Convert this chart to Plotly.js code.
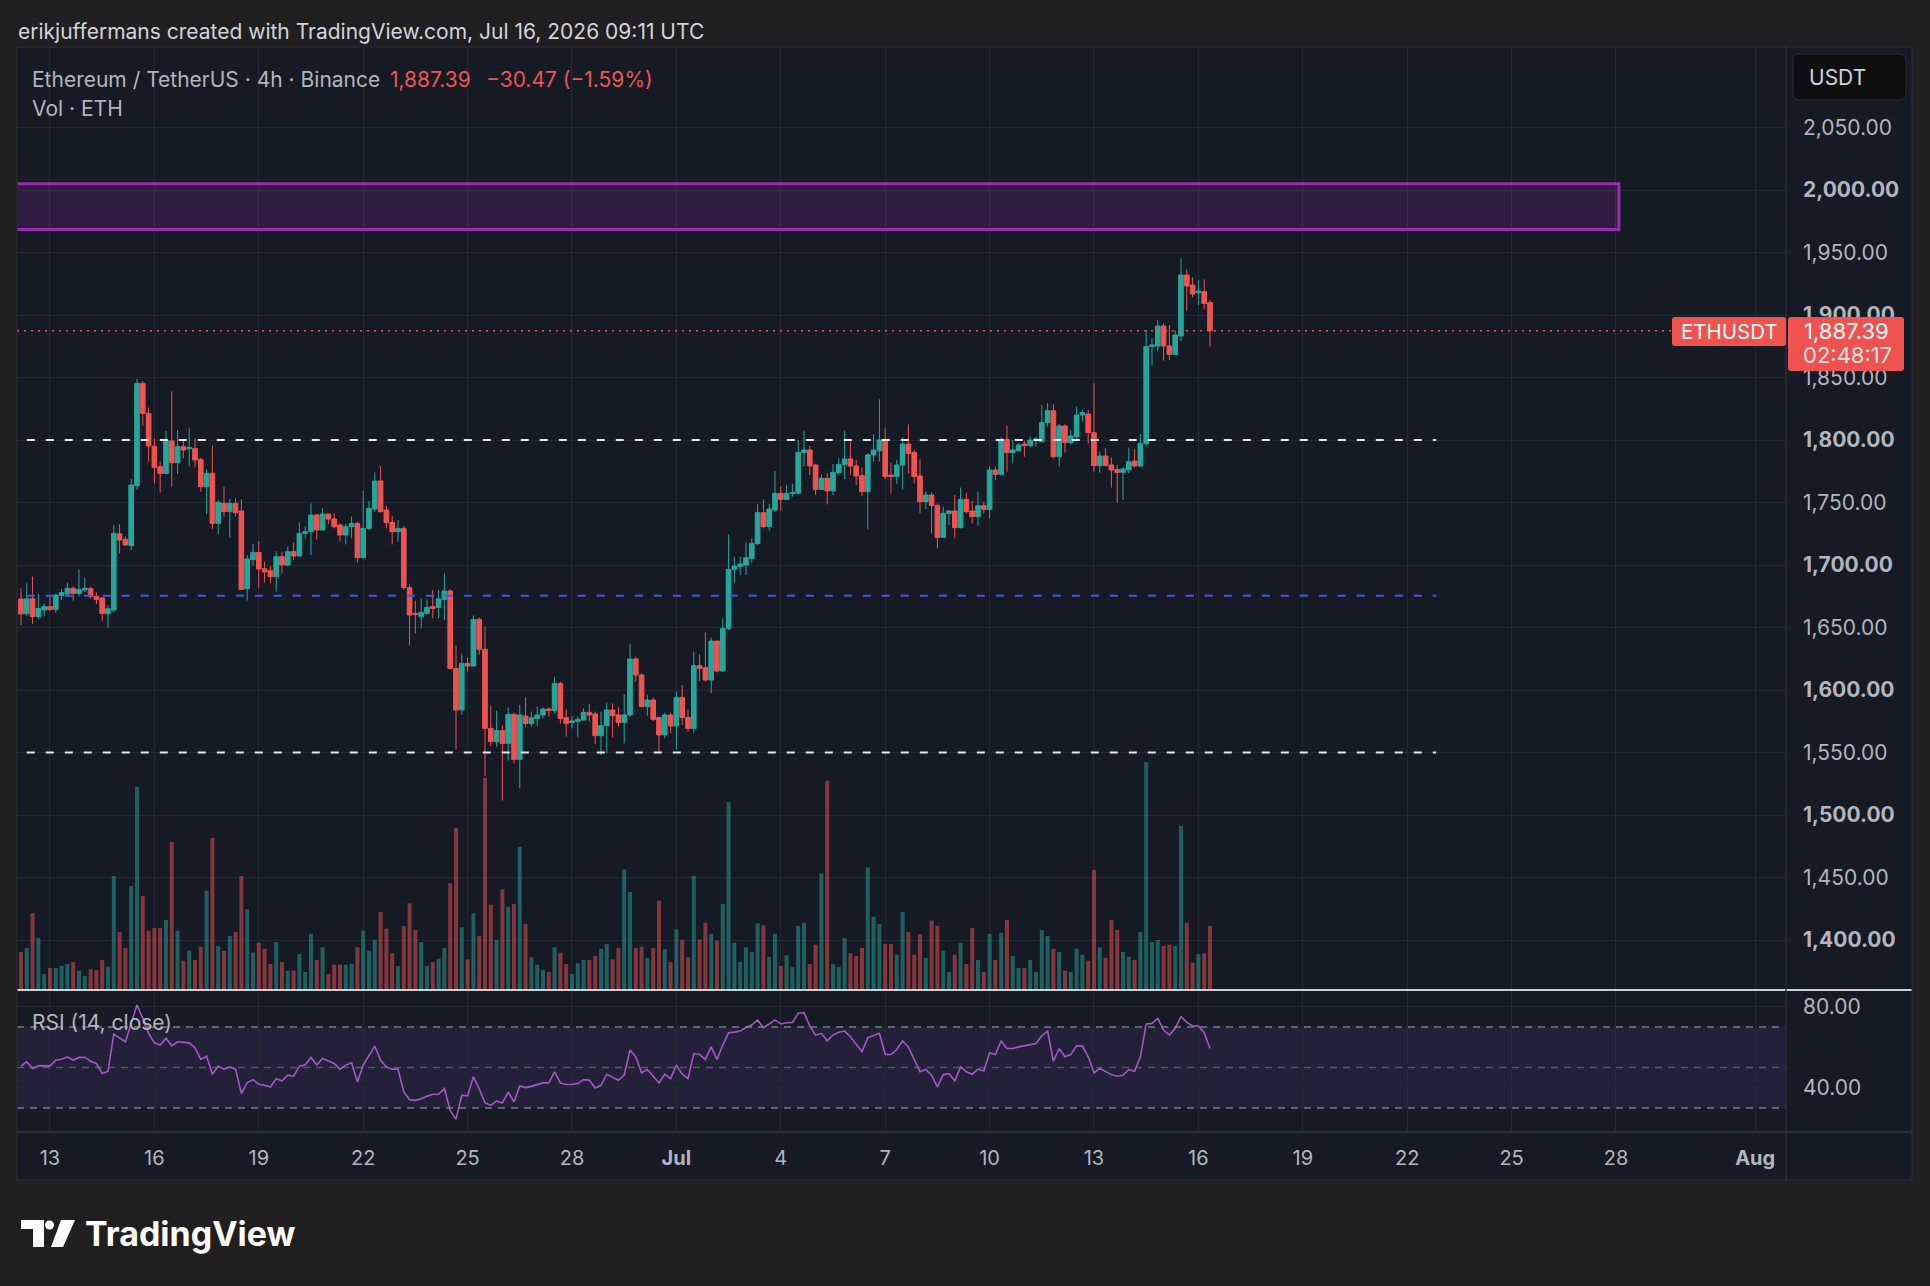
<!DOCTYPE html>
<html><head><meta charset="utf-8">
<script src="https://cdn.plot.ly/plotly-3.0.1.min.js"></script>
<style>html,body{margin:0;padding:0;background:#1f1f1f;}#chart{width:1930px;height:1286px;}</style>
</head><body><div id="chart"></div>
<script>
// ---------------- DATA (ETHUSDT 4h, Binance) ----------------
const OPEN = [1672.8,1661.0,1673.0,1658.7,1664.0,1666.7,1664.5,1675.7,1676.8,1681.3,
1677.3,1680.0,1681.0,1675.0,1673.6,1661.0,1664.0,1725.0,1720.5,1715.5,
1763.5,1845.3,1821.3,1795.0,1778.7,1773.3,1799.2,1781.9,1794.7,1793.0,
1793.3,1784.5,1762.7,1773.3,1733.3,1749.3,1742.7,1749.3,1743.2,1681.0,
1704.3,1710.0,1697.0,1695.5,1690.7,1706.7,1700.0,1710.7,1707.2,1725.3,
1726.7,1740.0,1728.0,1740.8,1736.8,1732.0,1724.0,1730.7,1733.3,1705.9,
1729.3,1744.8,1767.2,1744.0,1734.0,1726.7,1729.3,1681.9,1661.3,1658.7,
1661.3,1666.7,1666.1,1672.5,1679.2,1617.3,1584.0,1621.3,1619.2,1656.5,
1632.5,1569.3,1558.7,1567.5,1557.3,1580.5,1544.5,1579.2,1573.3,1577.3,
1580.0,1584.8,1583.5,1605.3,1577.9,1574.0,1575.0,1576.0,1582.1,1580.8,
1563.5,1571.5,1584.0,1580.0,1573.9,1580.0,1624.8,1612.0,1586.7,1592.0,
1577.9,1564.0,1580.0,1571.2,1594.1,1577.9,1569.3,1619.5,1617.9,1608.0,
1639.2,1615.2,1649.3,1696.5,1698.9,1700.0,1705.3,1717.3,1741.9,1730.7,
1744.0,1757.3,1752.5,1757.3,1757.3,1790.1,1792.0,1780.0,1760.5,1769.3,
1759.2,1774.1,1780.5,1784.8,1779.2,1771.5,1758.7,1788.0,1791.5,1800.0,
1772.0,1770.7,1780.0,1796.8,1789.9,1771.2,1750.7,1756.0,1747.5,1722.1,
1741.3,1743.2,1729.9,1752.5,1743.2,1738.7,1747.5,1744.5,1776.0,1772.5,
1800.5,1790.0,1791.5,1796.8,1795.5,1799.5,1798.7,1814.1,1823.5,1786.7,
1811.2,1797.9,1802.7,1820.0,1820.8,1805.9,1779.5,1787.2,1780.0,1776.5,
1774.1,1776.0,1783.2,1779.2,1797.3,1874.7,1875.2,1891.2,1875.2,1868.5,
1883.2,1932.0,1924.0,1918.0,1918.7,1909.9];
const HIGH = [1681.3,1685.3,1690.7,1677.0,1669.0,1675.7,1677.0,1681.0,1685.9,1683.0,
1696.5,1690.0,1682.7,1678.0,1674.0,1668.0,1732.0,1732.5,1723.0,1768.8,
1848.8,1847.0,1826.0,1801.3,1782.7,1807.2,1838.9,1808.0,1800.8,1809.3,
1801.3,1785.9,1776.8,1795.5,1752.0,1762.7,1752.8,1753.3,1752.5,1708.0,
1716.8,1719.2,1702.7,1699.2,1711.0,1710.7,1714.7,1718.0,1733.9,1731.0,
1749.3,1740.8,1745.3,1741.0,1741.3,1733.3,1732.8,1738.7,1734.7,1759.2,
1751.2,1774.1,1779.2,1747.2,1739.2,1736.0,1731.2,1684.5,1671.5,1673.3,
1672.5,1680.0,1680.0,1693.3,1680.5,1635.5,1629.3,1625.9,1659.7,1658.1,
1650.7,1587.2,1583.5,1571.5,1586.0,1582.0,1588.0,1594.1,1582.7,1586.7,
1585.9,1586.1,1610.7,1606.7,1584.5,1579.2,1578.7,1585.3,1588.8,1582.7,
1582.7,1589.9,1589.3,1586.1,1596.8,1636.8,1626.7,1613.3,1596.0,1594.1,
1578.7,1581.9,1581.9,1598.7,1604.0,1584.5,1630.7,1628.5,1646.1,1641.9,
1639.5,1657.3,1724.5,1706.7,1706.7,1718.1,1721.3,1748.5,1752.5,1748.8,
1775.2,1763.2,1764.0,1765.3,1800.0,1807.5,1795.2,1781.0,1772.5,1773.3,
1780.8,1785.3,1807.5,1798.7,1784.0,1778.1,1789.3,1804.8,1832.5,1809.3,
1781.9,1784.0,1802.1,1812.5,1792.0,1784.5,1758.7,1757.9,1749.3,1746.7,
1744.0,1756.0,1761.9,1757.9,1751.2,1758.7,1750.7,1778.7,1778.7,1802.1,
1811.5,1800.0,1797.3,1799.5,1802.7,1802.7,1828.0,1829.3,1828.5,1812.8,
1812.5,1808.0,1826.7,1824.0,1824.0,1845.3,1790.7,1793.3,1785.9,1780.0,
1778.1,1794.1,1792.8,1804.8,1888.0,1881.3,1896.0,1893.3,1892.0,1887.5,
1945.3,1936.5,1930.1,1928.0,1928.5,1912.0];
const LOW = [1652.0,1659.0,1653.0,1657.0,1659.0,1663.0,1662.0,1672.0,1674.7,1671.5,
1674.7,1678.7,1673.0,1668.8,1654.7,1650.0,1662.0,1709.3,1715.5,1712.0,
1760.0,1811.5,1782.7,1765.3,1758.0,1772.8,1762.7,1772.8,1785.3,1778.7,
1778.1,1758.7,1740.8,1728.8,1724.8,1738.7,1721.9,1738.7,1680.0,1671.5,
1700.0,1681.9,1685.9,1685.3,1678.7,1693.3,1698.7,1704.0,1706.7,1721.3,
1708.0,1720.5,1727.5,1732.8,1729.3,1718.7,1716.5,1721.3,1701.9,1705.3,
1728.0,1742.7,1741.9,1729.3,1716.5,1718.7,1680.0,1635.5,1645.3,1649.3,
1660.0,1657.3,1657.3,1656.0,1616.5,1552.5,1580.0,1614.7,1618.7,1628.0,
1531.0,1554.7,1554.7,1511.5,1543.5,1541.3,1521.3,1570.7,1570.7,1571.2,
1577.3,1578.7,1581.3,1573.3,1562.7,1569.3,1562.1,1575.5,1574.7,1556.8,
1548.0,1549.3,1562.1,1570.7,1557.3,1578.7,1606.7,1586.1,1579.5,1575.2,
1550.1,1561.3,1565.3,1552.5,1572.0,1566.7,1565.3,1607.2,1606.7,1597.3,
1614.1,1614.7,1648.0,1685.9,1692.0,1692.0,1701.9,1716.0,1729.3,1727.5,
1742.7,1743.5,1752.5,1754.7,1756.8,1778.7,1772.0,1756.0,1760.0,1748.5,
1756.0,1772.0,1768.8,1772.0,1764.0,1755.2,1728.5,1782.7,1782.7,1768.8,
1757.3,1764.8,1760.5,1773.3,1765.3,1741.3,1744.8,1725.3,1713.3,1722.0,
1732.0,1721.3,1729.3,1741.3,1733.3,1731.5,1741.3,1737.3,1768.0,1772.0,
1774.7,1781.3,1790.7,1786.7,1794.1,1794.7,1797.9,1810.7,1785.0,1778.7,
1789.9,1796.5,1798.7,1814.7,1797.3,1774.7,1773.9,1778.7,1761.9,1749.9,
1752.0,1773.3,1778.1,1778.7,1794.7,1860.0,1871.2,1863.5,1864.0,1868.0,
1879.2,1903.5,1914.1,1908.0,1904.5,1874.7];
const CLOSE = [1660.8,1673.0,1658.7,1665.3,1666.7,1664.5,1676.0,1677.9,1681.3,1677.3,
1680.5,1681.3,1674.7,1672.5,1661.3,1665.0,1725.3,1720.0,1716.0,1764.0,
1845.3,1821.3,1795.2,1778.0,1773.3,1800.0,1781.9,1794.7,1792.0,1794.0,
1784.0,1762.7,1773.3,1733.3,1750.1,1742.7,1749.3,1741.9,1680.5,1704.8,
1710.1,1696.8,1694.4,1690.7,1706.7,1700.0,1710.7,1707.2,1725.3,1726.7,
1740.0,1728.0,1740.8,1736.8,1730.7,1724.0,1730.7,1733.3,1705.9,1729.3,
1745.3,1767.2,1742.7,1733.9,1726.7,1729.3,1681.9,1660.0,1660.5,1662.1,
1666.1,1665.3,1672.8,1679.2,1617.3,1584.0,1621.3,1619.2,1656.5,1632.5,
1569.3,1558.7,1567.5,1557.3,1580.5,1544.5,1580.0,1573.3,1577.9,1580.0,
1584.8,1583.5,1605.3,1577.3,1573.3,1575.3,1576.5,1582.1,1580.0,1563.5,
1571.5,1584.0,1579.5,1573.9,1580.0,1624.8,1612.0,1586.7,1592.0,1576.5,
1564.0,1580.0,1571.2,1594.1,1577.9,1569.3,1619.5,1617.3,1608.0,1639.2,
1615.2,1649.3,1696.5,1699.2,1700.8,1705.9,1717.3,1741.9,1730.7,1744.8,
1757.3,1752.5,1757.3,1757.9,1790.1,1792.0,1779.2,1760.5,1769.3,1759.2,
1774.1,1780.5,1784.8,1779.2,1771.2,1758.7,1788.0,1792.0,1800.0,1770.7,
1770.7,1780.0,1796.8,1789.3,1770.7,1750.7,1756.0,1747.5,1722.1,1741.3,
1743.2,1729.9,1752.5,1742.7,1738.7,1747.5,1744.5,1776.0,1772.5,1800.5,
1789.9,1792.0,1796.0,1795.5,1800.0,1800.8,1814.1,1823.5,1786.7,1811.2,
1797.9,1803.2,1820.0,1821.9,1805.9,1779.5,1787.2,1779.5,1776.0,1774.1,
1776.8,1782.7,1779.2,1797.3,1874.7,1876.0,1891.2,1875.2,1868.5,1884.0,
1932.0,1923.2,1916.8,1919.2,1909.3,1887.39];
// Volume, thousand ETH
const VOLUME = [57,63,115,78,24,33,33,36,39,42,
29,21,31,30,45,35,171,87,63,156,
305,141,89,93,93,105,222,89,44,59,
45,65,149,228,66,59,81,87,171,121,
56,71,62,39,72,42,29,29,54,27,
84,45,64,24,38,38,38,39,64,89,
59,75,117,92,55,36,96,130,90,72,
36,42,47,63,160,243,94,46,115,81,
318,128,75,151,125,129,215,99,49,38,
30,27,64,56,39,24,40,45,45,51,
62,69,46,63,181,147,63,65,48,63,
134,61,42,91,75,49,171,76,101,84,
74,129,282,71,42,64,57,100,97,50,
84,36,52,34,96,101,39,68,175,314,
39,35,78,55,51,63,184,110,99,69,
69,53,117,87,53,84,48,104,96,59,
27,53,71,39,93,45,27,84,45,86,
105,51,33,33,45,27,90,81,62,57,
29,27,62,53,44,180,64,48,105,90,
57,50,45,87,342,72,75,66,68,66,
246,101,41,54,55,96];
// RSI(14, close)
const RSI = [50.7,52.8,49.5,50.8,50.8,50.8,53.6,54.1,55.3,53.6,
55.0,55.1,53.1,52.0,47.0,48.2,66.5,64.4,62.7,71.8,
80.9,74.3,66.9,62.2,61.1,64.4,60.7,62.7,62.4,62.2,
59.8,54.0,55.6,46.7,50.7,49.2,50.3,49.2,37.1,42.6,
44.0,41.7,41.2,40.4,44.5,43.4,46.2,45.7,50.7,51.2,
55.0,51.2,54.5,53.3,52.0,49.2,51.2,52.3,42.9,51.2,
55.8,60.6,53.6,50.3,49.2,49.2,37.9,34.1,33.8,34.6,
35.8,36.8,36.8,39.6,28.8,24.4,36.3,36.0,45.4,39.6,
32.6,31.3,33.5,32.5,37.9,33.0,40.9,40.1,40.7,41.6,
42.4,42.4,47.9,42.4,41.6,41.7,42.1,44.0,43.7,39.9,
41.2,46.7,45.4,43.7,46.2,58.6,55.3,47.4,49.0,45.7,
42.4,46.7,44.5,51.2,46.7,44.5,56.9,56.4,54.0,60.2,
54.0,61.1,67.2,67.5,68.0,69.8,71.0,73.5,69.7,71.5,
73.5,71.5,72.1,72.3,76.8,77.1,70.5,66.0,66.9,63.2,
66.0,67.4,68.0,65.2,61.6,57.8,64.7,65.7,66.9,56.4,
56.4,58.9,63.1,60.2,53.6,47.9,49.0,46.2,40.4,46.5,
47.0,43.4,50.3,47.9,46.7,49.2,48.3,57.3,56.4,63.1,
59.4,59.4,60.2,60.7,61.4,61.9,65.7,68.0,53.1,59.4,
55.3,56.4,60.7,60.7,55.3,47.4,49.5,47.9,46.5,45.7,
46.2,49.0,48.2,55.3,71.5,71.8,74.3,68.5,66.0,69.3,
75.1,72.3,70.5,70.5,67.2,59.4];

const FIRST_BAR = '2026-06-12T04:00:00Z';
const BAR_HOURS = 4;
const TIME_TICKS = ['2026-06-13','2026-06-16','2026-06-19','2026-06-22','2026-06-25','2026-06-28',
  '2026-07-01','2026-07-04','2026-07-07','2026-07-10','2026-07-13','2026-07-16','2026-07-19',
  '2026-07-22','2026-07-25','2026-07-28','2026-08-01'];
const TIME_LABELS = ['13','16','19','22','25','28','<b>Jul</b>','4','7','10','13','16','19','22','25','28','<b>Aug</b>'];
const PRICE_TICKS = [1400,1450,1500,1550,1600,1650,1700,1750,1800,1850,1900,1950,2000,2050];
const RSI_TICKS = [80,40];
const RSI_LEVELS = [70,50,30];
const LAST_PRICE = 1887.39;
const LEVELS = [
  {price:1800, color:'#e6e8ee', from:'2026-06-12 08:00', to:'2026-07-22 20:00'},
  {price:1675.5, color:'#2f5fe8', from:'2026-06-12 08:00', to:'2026-07-22 20:00'},
  {price:1550, color:'#e6e8ee', from:'2026-06-12 08:00', to:'2026-07-22 20:00'}
];
const ZONE = {from:'2026-06-05', to:'2026-07-28 02:00', low:1968.5, high:2005};

// ---------------- LAYOUT ----------------
const W = 1930, H = 1286;
const PX = x => x / W, PY = y => (H - y) / H;
const PLOT_L = 17, PLOT_R = 1786, PANEL_R = 1912, TOP = 47, MAIN_B = 990, RSI_B = 1132, PANEL_B = 1180;
const BG = '#161a25', GRID = '#242834', SEP = '#2a2e39', TXT = '#b2b5be';
const GREEN = '#26a69a', RED = '#ef5350';
const FONT = 'Inter, "Noto Sans", Roboto, sans-serif';

const startMs = Date.parse(FIRST_BAR);
const pad = n => String(n).padStart(2, '0');
const fmt = ms => { const d = new Date(ms); return d.getUTCFullYear() + '-' + pad(d.getUTCMonth()+1) + '-' + pad(d.getUTCDate()) + ' ' + pad(d.getUTCHours()) + ':' + pad(d.getUTCMinutes()); };
const TIMES = CLOSE.map((_, i) => fmt(startMs + i * BAR_HOURS * 3600e3));
const volColors = CLOSE.map((c, i) => c >= OPEN[i] ? 'rgba(38,166,154,0.5)' : 'rgba(239,83,80,0.5)');

function rrect(x0, y0, x1, y1, r) {
  const P = (x, y) => PX(x).toFixed(6) + ',' + PY(y).toFixed(6);
  return 'M' + P(x0 + r, y0) + ' L' + P(x1 - r, y0) + ' Q' + P(x1, y0) + ' ' + P(x1, y0 + r) +
    ' L' + P(x1, y1 - r) + ' Q' + P(x1, y1) + ' ' + P(x1 - r, y1) + ' L' + P(x0 + r, y1) +
    ' Q' + P(x0, y1) + ' ' + P(x0, y1 - r) + ' L' + P(x0, y0 + r) + ' Q' + P(x0, y0) + ' ' + P(x0 + r, y0) + ' Z';
}
function prect(x0, y0, x1, y1, fill, line, layer) {
  return {type:'rect', xref:'paper', yref:'paper', x0:PX(x0), x1:PX(x1), y0:PY(y1), y1:PY(y0),
    fillcolor:fill, line:line || {width:0}, layer:layer || 'below'};
}
function pline(x0, y0, x1, y1, color, width, layer) {
  return {type:'line', xref:'paper', yref:'paper', x0:PX(x0), x1:PX(x1), y0:PY(y0), y1:PY(y1),
    line:{color:color, width:width}, layer:layer || 'above'};
}
function note(x, y, text, size, color, extra) {
  return Object.assign({xref:'paper', yref:'paper', x:PX(x), y:PY(y), text:text, showarrow:false,
    xanchor:'left', yanchor:'middle', borderpad:0, font:{family:FONT, size:size, color:color}}, extra || {});
}

const traces = [
  {type:'bar', x:TIMES, y:VOLUME, xaxis:'x', yaxis:'y', marker:{color:volColors, line:{width:0}}, hoverinfo:'skip'},
  {type:'candlestick', x:TIMES, open:OPEN, high:HIGH, low:LOW, close:CLOSE, xaxis:'x', yaxis:'y2',
    increasing:{line:{color:GREEN, width:1}, fillcolor:GREEN},
    decreasing:{line:{color:RED, width:1}, fillcolor:RED}, whiskerwidth:0, hoverinfo:'skip'},
  {type:'scatter', mode:'lines', x:TIMES, y:RSI, xaxis:'x', yaxis:'y3', line:{color:'#a955c9', width:1.6}, hoverinfo:'skip'}
];

const shapes = [
  prect(PLOT_L, TOP, PANEL_R, PANEL_B, BG, {width:0}, 'below'),
  {type:'rect', xref:'paper', yref:'y3', x0:PX(PLOT_L), x1:PX(PLOT_R), y0:30, y1:70,
    fillcolor:'rgba(126,87,194,0.12)', line:{width:0}, layer:'below'},
];
RSI_LEVELS.forEach(v => shapes.push({type:'line', xref:'paper', yref:'y3', x0:PX(PLOT_L), x1:PX(PLOT_R), y0:v, y1:v,
  line:{color: v === 50 ? 'rgba(120,123,134,0.6)' : '#787b86', width:1.5, dash:'7px,6px'}, layer:'above'}));
shapes.push({type:'rect', xref:'x', yref:'y2', x0:ZONE.from, x1:ZONE.to, y0:ZONE.low, y1:ZONE.high,
  fillcolor:'rgba(156,39,176,0.2)', line:{color:'#9c27b0', width:3}, layer:'above'});
LEVELS.forEach(l => shapes.push({type:'line', xref:'x', yref:'y2', x0:l.from, x1:l.to, y0:l.price, y1:l.price,
  line:{color:l.color, width:2, dash:'8px,11px'}, layer:'above'}));
shapes.push({type:'line', xref:'paper', yref:'y2', x0:PX(PLOT_L), x1:PX(1672), y0:LAST_PRICE, y1:LAST_PRICE,
  line:{color:RED, width:1.5, dash:'2px,5px'}, layer:'above'});
// pane separators and frame
shapes.push(pline(PLOT_L, MAIN_B, PANEL_R, MAIN_B, '#cfd2da', 2));
shapes.push(pline(PLOT_L, RSI_B, PANEL_R, RSI_B, SEP, 2));
shapes.push(pline(PLOT_R, TOP, PLOT_R, PANEL_B, SEP, 1.5));
shapes.push(prect(PLOT_L, TOP, PANEL_R, PANEL_B, 'rgba(0,0,0,0)', {color:SEP, width:1}, 'above'));
// price scale widgets
shapes.push({type:'path', xref:'paper', yref:'paper', path:rrect(1793, 54, 1906, 100, 7), fillcolor:'#0e0e0e', line:{color:'#2e2e2e', width:1}, layer:'above'});
shapes.push({type:'path', xref:'paper', yref:'paper', path:rrect(1672, 317, 1786, 346, 3), fillcolor:RED, line:{width:0}, layer:'above'});
shapes.push({type:'path', xref:'paper', yref:'paper', path:rrect(1788, 317, 1904, 371, 3), fillcolor:RED, line:{width:0}, layer:'above'});
// TradingView logo mark
shapes.push(prect(21, 1220, 44, 1229, '#ffffff', {width:0}, 'above'));
shapes.push(prect(33, 1220, 44, 1247, '#ffffff', {width:0}, 'above'));
shapes.push({type:'circle', xref:'paper', yref:'paper', x0:PX(45), x1:PX(54), y0:PY(1229.5), y1:PY(1220.5), fillcolor:'#ffffff', line:{width:0}, layer:'above'});
shapes.push({type:'path', xref:'paper', yref:'paper', layer:'above', fillcolor:'#ffffff', line:{width:0},
  path:'M' + PX(61) + ',' + PY(1220) + ' L' + PX(75) + ',' + PY(1220) + ' L' + PX(63) + ',' + PY(1247) + ' L' + PX(51) + ',' + PY(1247) + ' Z'});

const priceText = PRICE_TICKS.map(v => { const s = v.toLocaleString('en-US', {minimumFractionDigits:2, maximumFractionDigits:2}); return v % 100 === 0 ? '<b>' + s + '</b>' : s; });

const annotations = [
  note(17, 31, 'erikjuffermans created with TradingView.com, Jul 16, 2026 09:11 UTC', 21, '#d1d4dc'),
  note(31, 79, 'Ethereum / TetherUS · 4h · Binance', 21, TXT),
  note(389, 79, LAST_PRICE.toLocaleString('en-US', {minimumFractionDigits:2}), 21, RED),
  note(485, 79, '−30.47 (−1.59%)', 21, RED),
  note(31, 108, 'Vol · ETH', 21, TXT),
  note(31, 1023, 'RSI (14, close)', 21, TXT),
  note(1808, 78, 'USDT', 21, '#d1d4dc'),
  note(1680, 331, 'ETHUSDT', 20.5, '#ffffff'),
  note(1803, 331, LAST_PRICE.toLocaleString('en-US', {minimumFractionDigits:2}), 22, '#ffffff'),
  note(1802, 355, '02:48:17', 22, 'rgba(255,255,255,0.85)'),
  note(84, 1233, 'TradingView', 34, '#ffffff', {font:{family:FONT, size:34, color:'#ffffff', weight:700}})
];

const layout = {
  width: W, height: H, margin:{l:0, r:0, t:0, b:0, pad:0},
  paper_bgcolor:'#1f1f1f', plot_bgcolor:'rgba(0,0,0,0)',
  showlegend:false, hovermode:false, dragmode:false,
  font:{family:FONT, color:TXT},
  bargap:0.31, boxgap:0.2, boxgroupgap:0,
  xaxis:{type:'date', domain:[PX(PLOT_L), PX(PLOT_R)], range:['2026-06-12 01:15', '2026-08-01 21:15'],
    anchor:'y3', tickvals:TIME_TICKS, ticktext:TIME_LABELS, showgrid:true, gridcolor:GRID, gridwidth:1,
    zeroline:false, showline:false, ticks:'', tickfont:{family:FONT, size:20, color:TXT},
    ticklabelstandoff:12, rangeslider:{visible:false}, fixedrange:true},
  yaxis:{domain:[PY(MAIN_B), PY(TOP)], range:[0, 1414.5], showgrid:false, zeroline:false,
    showticklabels:false, ticks:'', fixedrange:true},
  yaxis2:{overlaying:'y', side:'right', anchor:'x', range:[1360, 2114.4], tickvals:PRICE_TICKS, ticktext:priceText,
    showgrid:true, gridcolor:GRID, gridwidth:1, zeroline:false, showline:false, ticks:'',
    tickfont:{family:FONT, size:21, color:TXT}, ticklabelstandoff:16, fixedrange:true},
  yaxis3:{domain:[PY(RSI_B), PY(MAIN_B)], anchor:'x', side:'right', range:[18.15, 88.3], tickvals:RSI_TICKS,
    ticktext:RSI_TICKS.map(v => v.toFixed(2)), showgrid:true, gridcolor:GRID, gridwidth:1, zeroline:false,
    showline:false, ticks:'', tickfont:{family:FONT, size:21, color:TXT}, ticklabelstandoff:16, fixedrange:true},
  shapes: shapes,
  annotations: annotations
};

Plotly.newPlot('chart', traces, layout, {displayModeBar:false, staticPlot:true});
</script></body></html>
